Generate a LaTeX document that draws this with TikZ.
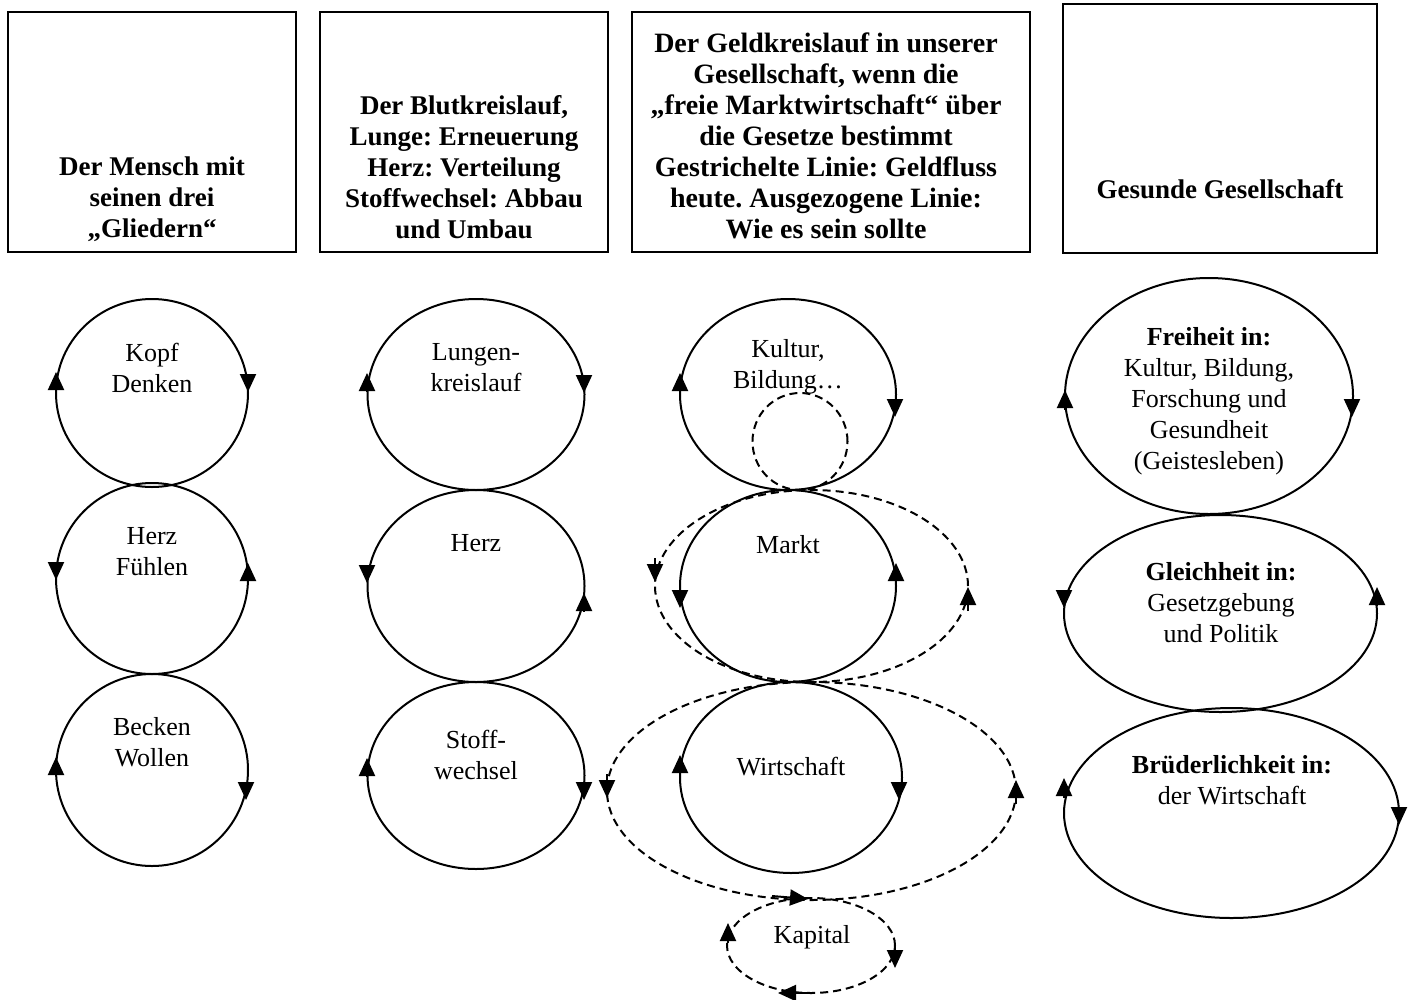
\documentclass[tikz,border=0pt]{standalone}
\usepackage{fontspec}
\setmainfont{Liberation Serif}
\usetikzlibrary{shapes.geometric, arrows.meta, calc}
\frenchspacing
\tikzstyle{headbox} = [rectangle, draw, line width=2pt, inner sep=0pt, outer sep=0pt]
\tikzstyle{headtext} = [align=center, inner sep=0pt, font=\fontsize{27}{31}\selectfont\bfseries]
\tikzstyle{organ} = [ellipse, draw, line width=2pt, inner sep=0pt, outer sep=0pt]
\tikzstyle{money} = [organ, dash pattern=on 8pt off 5pt]
\tikzstyle{inner} = [align=center, inner sep=0pt, font=\fontsize{26}{31}\selectfont]
\tikzstyle{flow} = [line width=2pt, -{Triangle[length=18pt,width=16pt]}]

\begin{document}
\begin{tikzpicture}[x=1pt, y=-1pt]
    \useasboundingbox (0,0) rectangle (1413,999);

    % headers
    \node (mensch) [headbox, minimum width=288pt, minimum height=240pt] at (152,132) {};
    \node (blut) [headbox, minimum width=288pt, minimum height=240pt] at (464,132) {};
    \node (geld) [headbox, minimum width=398pt, minimum height=240pt] at (831,132) {};
    \node (gesund) [headbox, minimum width=314pt, minimum height=249pt] at (1220,128.5) {};
    \node (menschtext) [headtext] at (152,199) {Der Mensch mit\\seinen drei\\„Gliedern“};
    \node (bluttext) [headtext] at (464,167) {Der Blutkreislauf,\\Lunge: Erneuerung\\Herz: Verteilung\\Stoffwechsel: Abbau\\und Umbau};
    \node (geldtext) [headtext, font=\fontsize{28}{31}\selectfont\bfseries] at (826,136) {Der Geldkreislauf in unserer\\Gesellschaft, wenn die\\„freie Marktwirtschaft“ über\\die Gesetze bestimmt\\Gestrichelte Linie: Geldfluss\\heute. Ausgezogene Linie:\\Wie es sein sollte};
    \node (gesundtext) [headtext] at (1220,189) {Gesunde Gesellschaft};

    % der Mensch
    \node (kopf) [organ, minimum width=192pt, minimum height=188pt] at (152,393) {};
    \node (herz) [organ, minimum width=192pt, minimum height=191pt] at (152,578.5) {};
    \node (becken) [organ, minimum width=192pt, minimum height=192pt] at (152,770) {};
    \node (kopftext) [inner] at (152,367.5) {Kopf\\Denken};
    \node (herztext) [inner] at (152,552) {Herz\\Fühlen};
    \node (beckentext) [inner] at (152,742.5) {Becken\\Wollen};
    \draw[flow] (56,390) -- (56,372);
    \draw[flow] (248,374) -- (248,392);
    \draw[flow] (56,562) -- (56,580);
    \draw[flow] (248,581) -- (248,563);
    \draw[flow] (56,775) -- (56,757);
    \draw[flow] (246,782) -- (246,800);

    % Blutkreislauf
    \node (lunge) [organ, minimum width=217pt, minimum height=191pt] at (476,394.5) {};
    \node (pumpe) [organ, minimum width=217pt, minimum height=192pt] at (476,586) {};
    \node (stoff) [organ, minimum width=217pt, minimum height=187pt] at (476,775.5) {};
    \node (lungetext) [inner] at (476,367.5) {Lungen-\\kreislauf};
    \node (pumpetext) [inner] at (476,543) {Herz};
    \node (stofftext) [inner] at (476,754.5) {Stoff-\\wechsel};
    \draw[flow] (367,391) -- (367,373);
    \draw[flow] (584,375) -- (584,393);
    \draw[flow] (367,565) -- (367,583);
    \draw[flow] (584,611) -- (584,593);
    \draw[flow] (367,776) -- (367,758);
    \draw[flow] (584,782) -- (584,800);

    % Geldkreislauf
    \node (kultur) [organ, minimum width=216pt, minimum height=191pt] at (788,394.5) {};
    \node (markt) [organ, minimum width=216pt, minimum height=192pt] at (788,586) {};
    \node (wirtschaft) [organ, minimum width=222pt, minimum height=191pt] at (791,777.5) {};
    \node (kulturgeld) [money, minimum width=95pt, minimum height=97pt] at (800,441.5) {};
    \node (marktgeld) [money, minimum width=313pt, minimum height=192pt] at (811.5,586) {};
    \node (wirtgeld) [money, minimum width=409pt, minimum height=218pt] at (811.5,791) {};
    \node (kapital) [money, minimum width=168pt, minimum height=95pt] at (811,945.5) {};
    \node (kulturtext) [inner] at (788,367) {Kultur,\\Bildung…};
    \node (markttext) [inner] at (788,545) {Markt};
    \node (wirtschafttext) [inner] at (791,767) {Wirtschaft};
    \node (kapitaltext) [inner] at (812,937) {Kapital};
    \draw[flow] (680,391) -- (680,373);
    \draw[flow] (895,399) -- (895,417);
    \draw[flow] (680,590) -- (680,608);
    \draw[flow] (896,581) -- (896,563);
    \draw[flow] (680,773) -- (680,755);
    \draw[flow] (899,782) -- (899,800);
    \draw[flow] (655,558) -- (655,582);
    \draw[flow] (968,611) -- (968,587);
    \draw[flow] (607,774) -- (607,798);
    \draw[flow] (1016,804) -- (1016,780);
    \draw[flow] (772,896) -- (808,899);
    \draw[flow] (728,943) -- (728,923);
    \draw[flow] (895,944) -- (895,968);
    \draw[flow] (810,993) -- (778,993);

    % gesunde Gesellschaft
    \node (freiheit) [organ, minimum width=288pt, minimum height=236pt] at (1209,396) {};
    \node (gleichheit) [organ, minimum width=313pt, minimum height=197pt] at (1220.5,613.5) {};
    \node (bruder) [organ, minimum width=335pt, minimum height=210pt] at (1231.5,813) {};
    \node (freiheittext) [inner] at (1209,401) {\textbf{Freiheit in:}\\Kultur, Bildung,\\Forschung und\\Gesundheit\\(Geistesleben)};
    \node (gleichheittext) [inner] at (1221,603) {\textbf{Gleichheit in:}\\Gesetzgebung\\und Politik};
    \node (brudertext) [inner] at (1232,780) {\textbf{Brüderlichkeit in:}\\der Wirtschaft};
    \draw[flow] (1065,410) -- (1065,390);
    \draw[flow] (1352,399) -- (1352,417);
    \draw[flow] (1064,590) -- (1064,608);
    \draw[flow] (1377,605) -- (1377,587);
    \draw[flow] (1064,798) -- (1064,778);
    \draw[flow] (1399,807) -- (1399,825);
\end{tikzpicture}
\end{document}
